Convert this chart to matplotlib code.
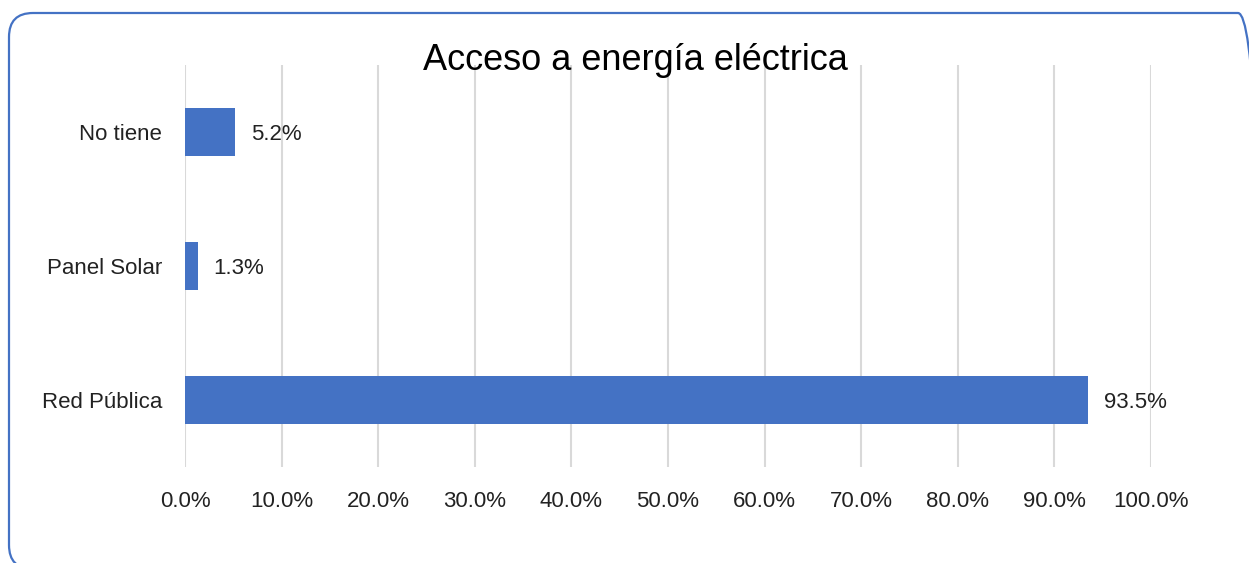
import matplotlib
matplotlib.use('Agg')
from matplotlib import pyplot as plt
from matplotlib.patches import FancyBboxPatch
from matplotlib.transforms import IdentityTransform
from matplotlib.ticker import FuncFormatter

categories = ['Red Pública', 'Panel Solar', 'No tiene']
values = [93.5, 1.3, 5.2]
x_ticks = [0, 10, 20, 30, 40, 50, 60, 70, 80, 90, 100]
title = 'Acceso a energía eléctrica'

blue = '#4472C4'
plt.rcParams['font.family'] = ['Liberation Sans', 'DejaVu Sans']

fig = plt.figure(figsize=(12.49, 5.63), dpi=100)
ax = fig.add_axes([185/1249, 1 - 467/563, (1151 - 185)/1249, (467 - 65)/563])

ypos = list(range(len(categories)))
ax.barh(ypos, values, height=0.36, color=blue, zorder=3)
for y, v in zip(ypos, values):
    ax.annotate(f'{v:.1f}%', (v, y), xytext=(11.5, -1.5), textcoords='offset points',
                va='center', ha='left', fontsize=16, color='#222222')

ax.set_xlim(0, 100)
ax.set_ylim(-0.5, 2.5)
ax.set_xticks(x_ticks)
ax.xaxis.set_major_formatter(FuncFormatter(lambda v, p: f'{v:.1f}%'))
ax.set_yticks(ypos)
ax.set_yticklabels(categories)
ax.tick_params(axis='both', length=0, labelsize=16, colors='#222222')
ax.tick_params(axis='y', pad=16.5)
ax.tick_params(axis='x', pad=17)
ax.grid(axis='x', color='#D9D9D9', linewidth=1.5, zorder=0)
for s in ax.spines.values():
    s.set_visible(False)

fig.text(635/1249, 1 - 60/563, title, ha='center', va='center', fontsize=26, color='black')

# rounded frame in pixel coordinates
frame = FancyBboxPatch((9, -6), 1253, 556, boxstyle='round,pad=0,rounding_size=24',
                       transform=IdentityTransform(), facecolor='none',
                       edgecolor=blue, linewidth=1.6)
fig.add_artist(frame)

fig.savefig('out.png', dpi=100)
